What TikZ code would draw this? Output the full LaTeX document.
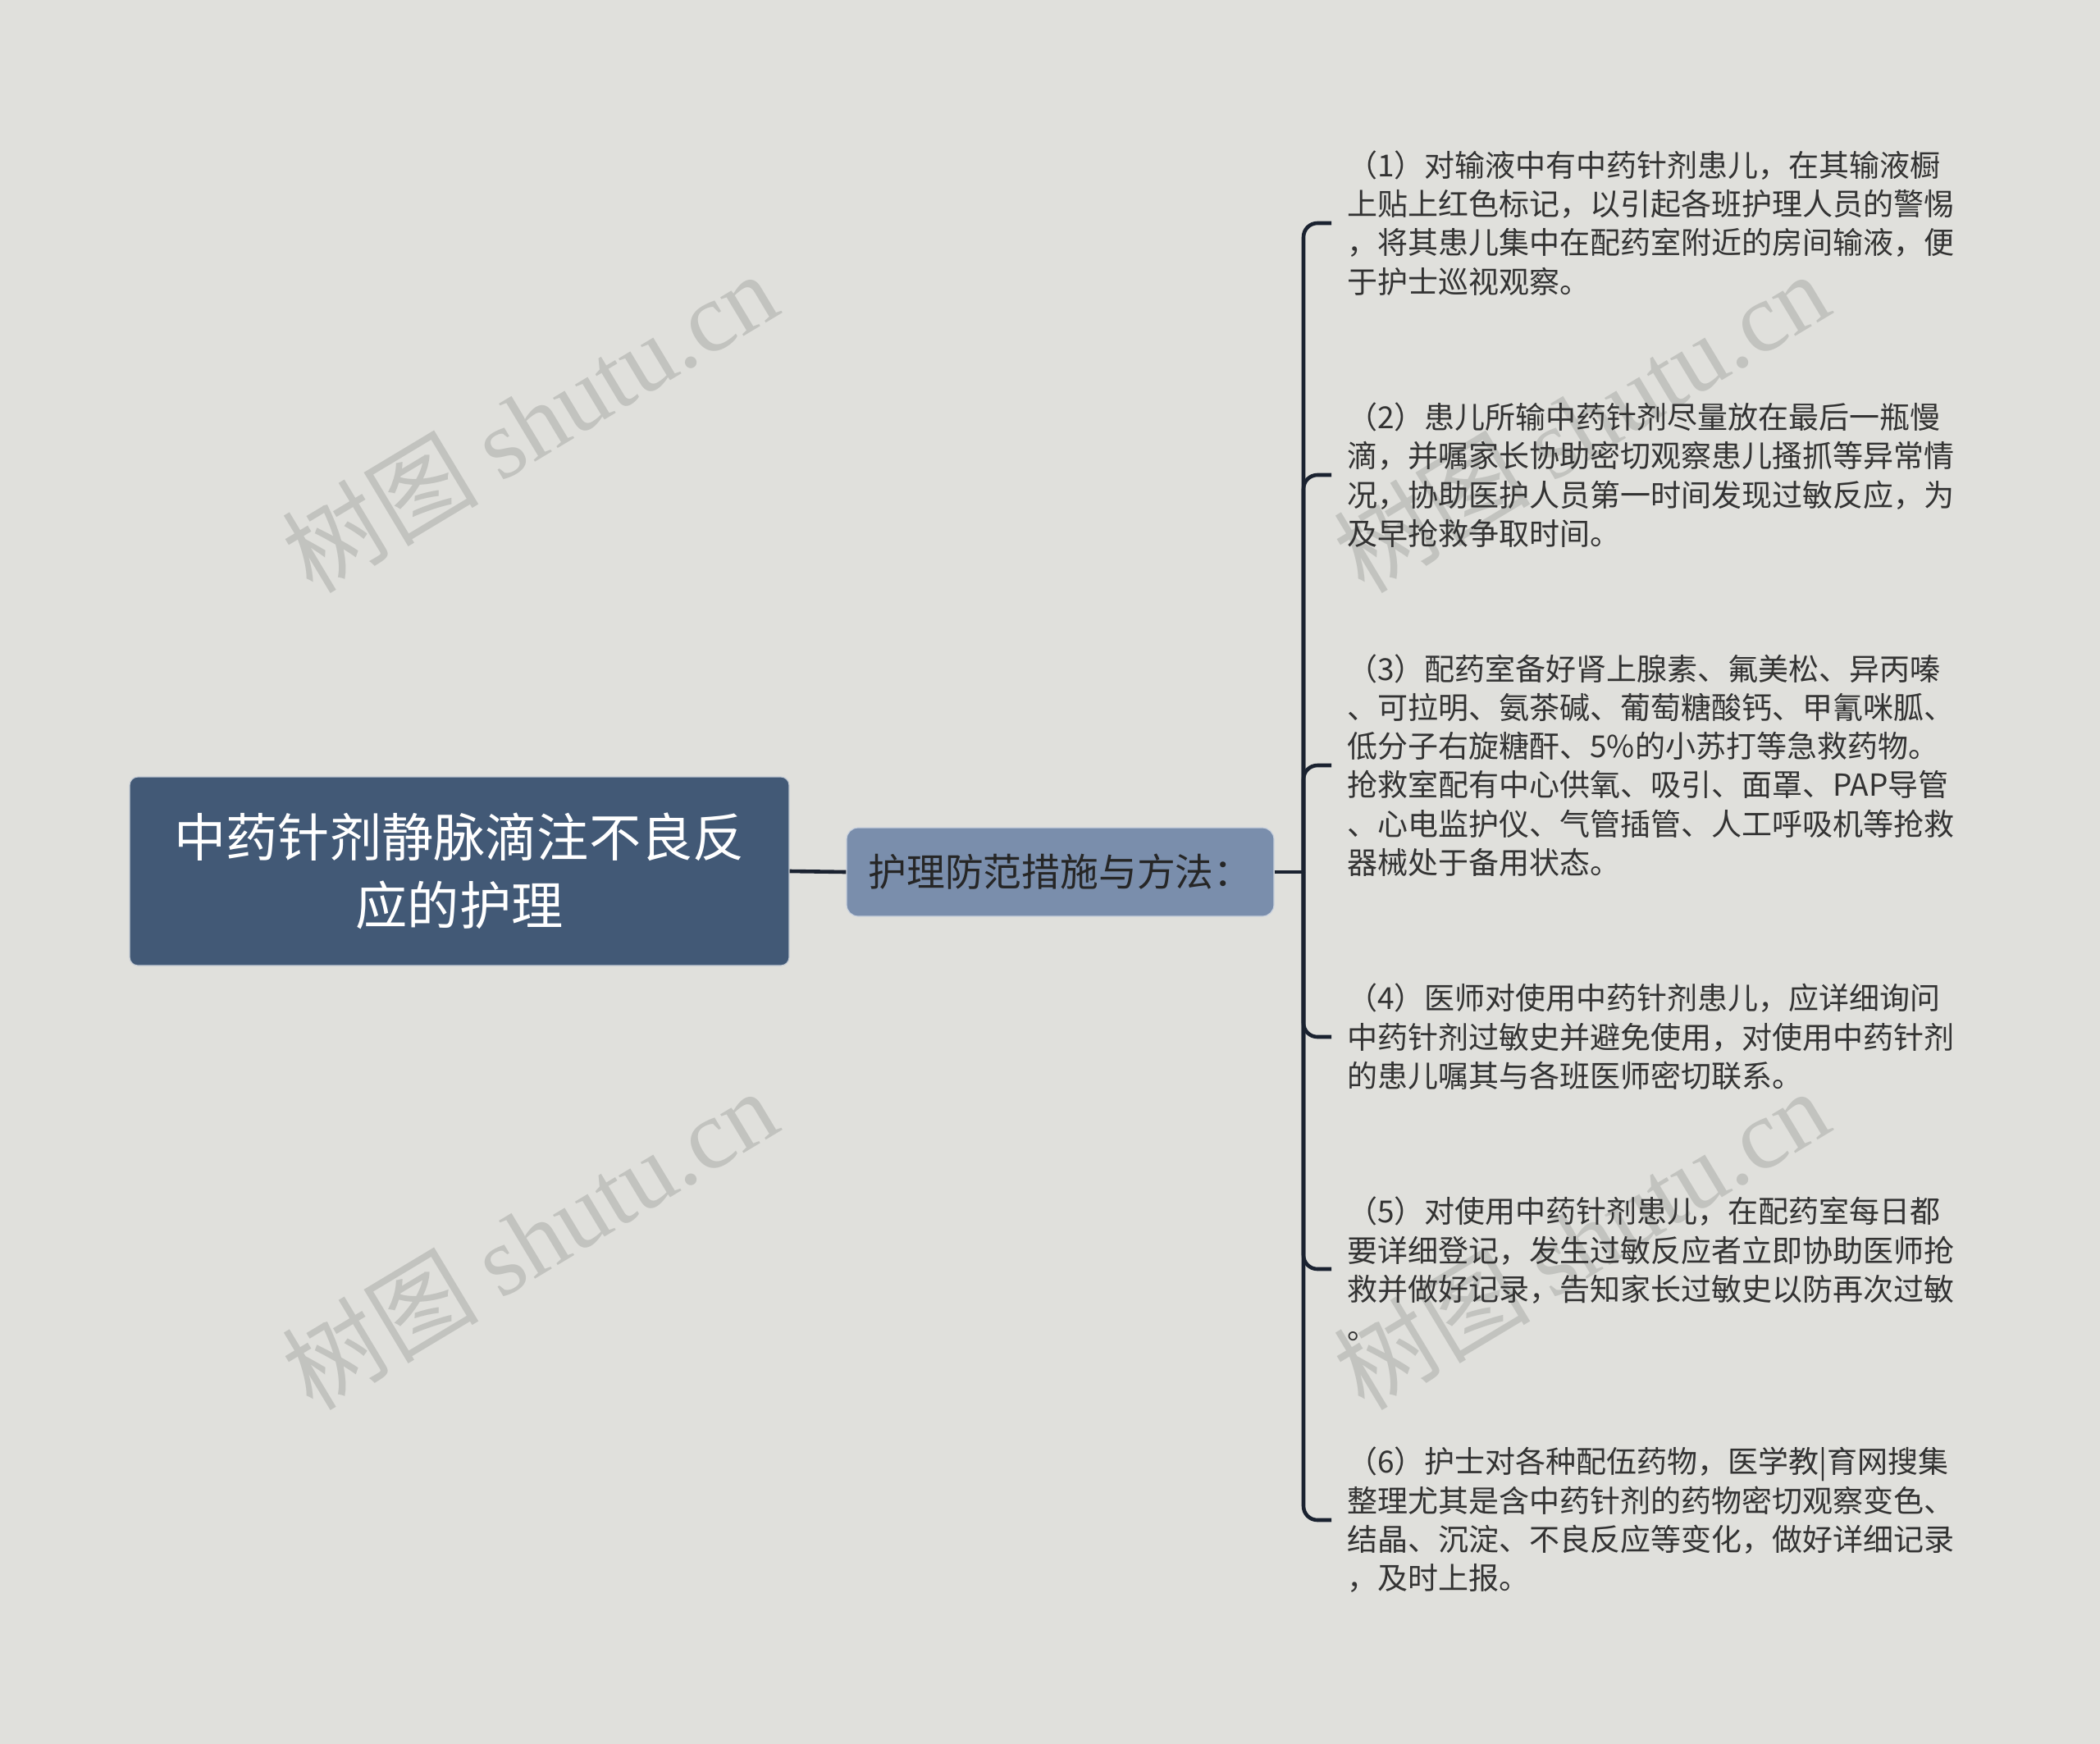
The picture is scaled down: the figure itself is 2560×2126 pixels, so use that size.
\documentclass[tikz,border=0pt]{standalone}
\usepackage{fontspec}
\setmainfont{Noto Sans CJK SC}
\newfontfamily\wmserif{Liberation Serif}
\usetikzlibrary{positioning}
\definecolor{bgc}{HTML}{E0E0DC}
\definecolor{rootc}{HTML}{425976}
\definecolor{secc}{HTML}{7A8EAC}
\definecolor{linec}{HTML}{1A2230}
\definecolor{txtc}{HTML}{333333}
\definecolor{wmc}{HTML}{C2C3BF}
\tikzset{
  rootbox/.style={rectangle, rounded corners=5pt, fill=rootc, draw=white!70!rootc, line width=0.6pt,
    minimum width=402pt, minimum height=115pt, align=center, text=white,
    font=\fontsize{31.6pt}{41.5pt}\selectfont},
  secbox/.style={rectangle, rounded corners=7pt, fill=secc, draw=white!60!secc, line width=0.6pt,
    minimum width=260.5pt, minimum height=54pt, align=center, text=black!85,
    font=\fontsize{23.4pt}{28pt}\selectfont},
  leafbox/.style={anchor=west, align=left, inner xsep=9.5pt, inner ysep=0pt, text=txtc,
    font=\fontsize{18.5pt}{23.65pt}\selectfont},
  conn/.style={draw=linec, line width=2.3pt, rounded corners=8.5pt},
  wmark/.style={rotate=31, text=wmc, inner sep=0pt}
}
\begin{document}
\begin{tikzpicture}[x=0.5pt,y=-0.5pt]
\fill[bgc] (0,0) rectangle (2560,2126);
\useasboundingbox (0,0) rectangle (2560,2126);
% watermarks
\foreach \wx/\wy/\nm in {645/514/wa,645/1510/wb,1927/514/wc,1927/1510/wd}{
  \node[wmark] (\nm) at (\wx,\wy) {\fontsize{60pt}{64pt}\selectfont 树图 {\wmserif shutu.cn}};
}
% nodes
\node[rootbox] (root) at (560,1062) {中药针剂静脉滴注不良反\\应的护理};
\node[secbox] (sec) at (1292.5,1063) {护理防范措施与方法：};
\coordinate (sp) at (1589,1063);
\node[leafbox] (c1) at (1623,272) {（1）对输液中有中药针剂患儿，在其输液橱\\上贴上红色标记，以引起各班护理人员的警惕\\，将其患儿集中在配药室附近的房间输液，便\\于护士巡视观察。};
\node[leafbox] (c2) at (1623,579) {（2）患儿所输中药针剂尽量放在最后一瓶慢\\滴，并嘱家长协助密切观察患儿搔抓等异常情\\况，协助医护人员第一时间发现过敏反应，为\\及早抢救争取时间。};
\node[leafbox] (c3) at (1623,933) {（3）配药室备好肾上腺素、氟美松、异丙嗪\\、可拉明、氨茶碱、葡萄糖酸钙、甲氰咪胍、\\低分子右旋糖酐、5\%的小苏打等急救药物。\\抢救室配有中心供氧、吸引、面罩、PAP导管\\、心电监护仪、气管插管、人工呼吸机等抢救\\器械处于备用状态。};
\node[leafbox] (c4) at (1623,1264) {（4）医师对使用中药针剂患儿，应详细询问\\中药针剂过敏史并避免使用，对使用中药针剂\\的患儿嘱其与各班医师密切联系。};
\node[leafbox] (c5) at (1623,1547) {（5）对使用中药针剂患儿，在配药室每日都\\要详细登记，发生过敏反应者立即协助医师抢\\救并做好记录，告知家长过敏史以防再次过敏\\。};
\node[leafbox] (c6) at (1623,1853) {（6）护士对各种配伍药物，医学教|育网搜集\\整理尤其是含中药针剂的药物密切观察变色、\\结晶、沉淀、不良反应等变化，做好详细记录\\，及时上报。};
% connectors
\draw[conn] (root.east) -- (sec.west);
\draw[conn] (sec.east) -- (sp);
\foreach \c in {c1,c2,c3,c4,c5,c6}{
  \draw[conn] (sp) |- (\c.west);
}
\end{tikzpicture}
\end{document}
